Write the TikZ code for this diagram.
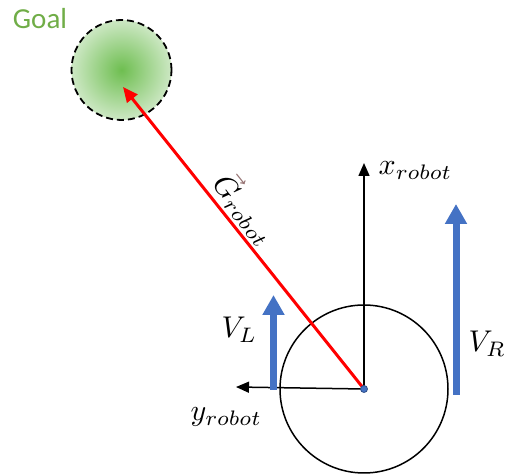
\documentclass[tikz,border=0pt]{standalone}
\usepackage{fontspec}
\usepackage{amsmath}
\newfontfamily\goalfont{Carlito}
\usetikzlibrary{arrows.meta}
\definecolor{goalgreen}{RGB}{112,173,71}
\definecolor{goalcore}{RGB}{110,190,80}
\definecolor{goalrim}{RGB}{205,232,196}
\definecolor{vblue}{RGB}{68,114,196}
\definecolor{vecgray}{RGB}{150,115,115}
\tikzset{
  axis/.style={line width=1.5pt,-{Triangle[width=11pt,length=13pt]}},
  velo/.style={line width=7pt,vblue,-{Triangle[width=21pt,length=20pt]}},
  goalvec/.style={line width=3pt,red,-{Triangle[width=13pt,length=15pt]}},
  lbl/.style={font=\fontsize{10}{12}\selectfont,inner sep=0pt,scale=3,transform shape},
}
\begin{document}
\begin{tikzpicture}[x=1pt,y=1pt]
\useasboundingbox (0,0) rectangle (506,476);
% goal
\coordinate (G) at (121.5,406);
\shade[inner color=goalcore,outer color=goalrim] (G) circle (50);
\draw[line width=1.8pt,dash pattern=on 7pt off 4pt] (G) circle (50);
\node[inner sep=0pt,font=\goalfont\fontsize{29}{34}\selectfont,text=goalgreen] (goal) at (40,457) {Goal};
% robot
\coordinate (C) at (364,87);
\draw[line width=1.5pt] (C) circle (84);
\coordinate (xt) at (364,313);
\coordinate (yt) at (236,89);
\coordinate (gt) at (123,389);
\draw[axis] (C) -- (xt);
\draw[axis] (C) -- (yt);
% velocities
\coordinate (vlb) at (273.5,86);
\coordinate (vlt) at (273.5,181);
\coordinate (vrb) at (456,81);
\coordinate (vrt) at (456,272);
\draw[velo] (vlb) -- (vlt);
\draw[velo] (vrb) -- (vrt);
% goal vector
\draw[goalvec] (C) -- (gt);
\fill[vblue,draw=vblue!70!black,line width=0.8pt] (C) circle (3.5);
% labels
\node[lbl,anchor=base west] (xl) at (378,301) {$x_{robot}$};
\node[lbl,anchor=base west] (yl) at (190,55) {$y_{robot}$};
\node[lbl,anchor=base west] (vl) at (221,138) {$V_L$};
\node[lbl,anchor=base west] (vr) at (468,124) {$V_R$};
\node[lbl,rotate=-51.4] (gl) at (246,268) {${\color{vecgray}\vec{\color{black}G}}_{robot}$};
\end{tikzpicture}
\end{document}
